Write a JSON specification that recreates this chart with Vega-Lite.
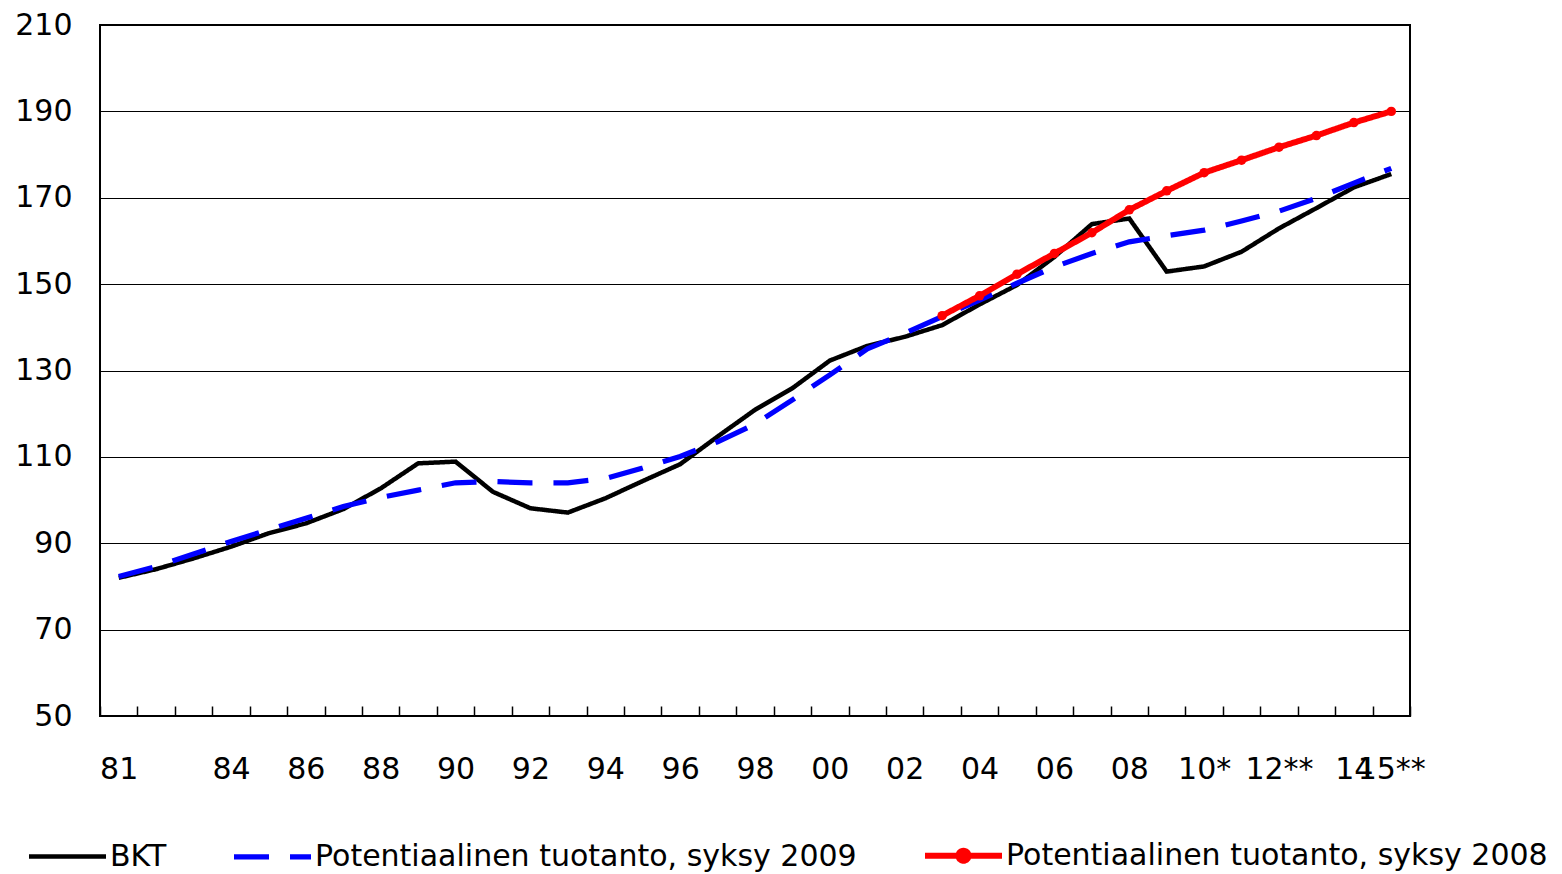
{
  "$schema": "https://vega.github.io/schema/vega-lite/v6.json",
  "width": 1310,
  "height": 691,
  "autosize": {"type": "none"},
  "padding": {"left": 100, "top": 25, "right": 152, "bottom": 158},
  "background": "white",
  "config": {"view": {"stroke": "black", "strokeWidth": 2}, "font": "DejaVu Sans"},
  "data": {"values": [
      {"year": "81", "series": "BKT", "value": 82.0},
      {"year": "82", "series": "BKT", "value": 84.0},
      {"year": "83", "series": "BKT", "value": 86.5},
      {"year": "84", "series": "BKT", "value": 89.2},
      {"year": "85", "series": "BKT", "value": 92.3},
      {"year": "86", "series": "BKT", "value": 94.6},
      {"year": "87", "series": "BKT", "value": 97.9},
      {"year": "88", "series": "BKT", "value": 102.7},
      {"year": "89", "series": "BKT", "value": 108.5},
      {"year": "90", "series": "BKT", "value": 108.9},
      {"year": "91", "series": "BKT", "value": 101.9},
      {"year": "92", "series": "BKT", "value": 98.1},
      {"year": "93", "series": "BKT", "value": 97.1},
      {"year": "94", "series": "BKT", "value": 100.4},
      {"year": "95", "series": "BKT", "value": 104.4},
      {"year": "96", "series": "BKT", "value": 108.3},
      {"year": "97", "series": "BKT", "value": 114.7},
      {"year": "98", "series": "BKT", "value": 120.9},
      {"year": "99", "series": "BKT", "value": 125.9},
      {"year": "00", "series": "BKT", "value": 132.3},
      {"year": "01", "series": "BKT", "value": 135.7},
      {"year": "02", "series": "BKT", "value": 137.8},
      {"year": "03", "series": "BKT", "value": 140.5},
      {"year": "04", "series": "BKT", "value": 145.3},
      {"year": "05", "series": "BKT", "value": 149.8},
      {"year": "06", "series": "BKT", "value": 156.3},
      {"year": "07", "series": "BKT", "value": 163.9},
      {"year": "08", "series": "BKT", "value": 165.2},
      {"year": "09", "series": "BKT", "value": 152.9},
      {"year": "10*", "series": "BKT", "value": 154.1},
      {"year": "11", "series": "BKT", "value": 157.5},
      {"year": "12**", "series": "BKT", "value": 162.9},
      {"year": "13", "series": "BKT", "value": 167.6},
      {"year": "14", "series": "BKT", "value": 172.4},
      {"year": "15**", "series": "BKT", "value": 175.5},
      {"year": "81", "series": "Potentiaalinen tuotanto, syksy 2009", "value": 82.3},
      {"year": "82", "series": "Potentiaalinen tuotanto, syksy 2009", "value": 84.6},
      {"year": "83", "series": "Potentiaalinen tuotanto, syksy 2009", "value": 87.5},
      {"year": "84", "series": "Potentiaalinen tuotanto, syksy 2009", "value": 90.4},
      {"year": "85", "series": "Potentiaalinen tuotanto, syksy 2009", "value": 93.1},
      {"year": "86", "series": "Potentiaalinen tuotanto, syksy 2009", "value": 95.8},
      {"year": "87", "series": "Potentiaalinen tuotanto, syksy 2009", "value": 98.5},
      {"year": "88", "series": "Potentiaalinen tuotanto, syksy 2009", "value": 100.6},
      {"year": "89", "series": "Potentiaalinen tuotanto, syksy 2009", "value": 102.3},
      {"year": "90", "series": "Potentiaalinen tuotanto, syksy 2009", "value": 104.0},
      {"year": "91", "series": "Potentiaalinen tuotanto, syksy 2009", "value": 104.3},
      {"year": "92", "series": "Potentiaalinen tuotanto, syksy 2009", "value": 104.0},
      {"year": "93", "series": "Potentiaalinen tuotanto, syksy 2009", "value": 104.0},
      {"year": "94", "series": "Potentiaalinen tuotanto, syksy 2009", "value": 105.0},
      {"year": "95", "series": "Potentiaalinen tuotanto, syksy 2009", "value": 107.4},
      {"year": "96", "series": "Potentiaalinen tuotanto, syksy 2009", "value": 110.1},
      {"year": "97", "series": "Potentiaalinen tuotanto, syksy 2009", "value": 113.5},
      {"year": "98", "series": "Potentiaalinen tuotanto, syksy 2009", "value": 117.6},
      {"year": "99", "series": "Potentiaalinen tuotanto, syksy 2009", "value": 123.2},
      {"year": "00", "series": "Potentiaalinen tuotanto, syksy 2009", "value": 129.0},
      {"year": "01", "series": "Potentiaalinen tuotanto, syksy 2009", "value": 135.0},
      {"year": "02", "series": "Potentiaalinen tuotanto, syksy 2009", "value": 138.6},
      {"year": "03", "series": "Potentiaalinen tuotanto, syksy 2009", "value": 142.5},
      {"year": "04", "series": "Potentiaalinen tuotanto, syksy 2009", "value": 146.3},
      {"year": "05", "series": "Potentiaalinen tuotanto, syksy 2009", "value": 150.2},
      {"year": "06", "series": "Potentiaalinen tuotanto, syksy 2009", "value": 154.0},
      {"year": "07", "series": "Potentiaalinen tuotanto, syksy 2009", "value": 157.1},
      {"year": "08", "series": "Potentiaalinen tuotanto, syksy 2009", "value": 159.8},
      {"year": "09", "series": "Potentiaalinen tuotanto, syksy 2009", "value": 161.2},
      {"year": "10*", "series": "Potentiaalinen tuotanto, syksy 2009", "value": 162.5},
      {"year": "11", "series": "Potentiaalinen tuotanto, syksy 2009", "value": 164.6},
      {"year": "12**", "series": "Potentiaalinen tuotanto, syksy 2009", "value": 166.9},
      {"year": "13", "series": "Potentiaalinen tuotanto, syksy 2009", "value": 169.9},
      {"year": "14", "series": "Potentiaalinen tuotanto, syksy 2009", "value": 173.4},
      {"year": "15**", "series": "Potentiaalinen tuotanto, syksy 2009", "value": 176.8},
      {"year": "03", "series": "Potentiaalinen tuotanto, syksy 2008", "value": 142.7},
      {"year": "04", "series": "Potentiaalinen tuotanto, syksy 2008", "value": 147.3},
      {"year": "05", "series": "Potentiaalinen tuotanto, syksy 2008", "value": 152.3},
      {"year": "06", "series": "Potentiaalinen tuotanto, syksy 2008", "value": 157.1},
      {"year": "07", "series": "Potentiaalinen tuotanto, syksy 2008", "value": 161.9},
      {"year": "08", "series": "Potentiaalinen tuotanto, syksy 2008", "value": 167.2},
      {"year": "09", "series": "Potentiaalinen tuotanto, syksy 2008", "value": 171.6},
      {"year": "10*", "series": "Potentiaalinen tuotanto, syksy 2008", "value": 175.8},
      {"year": "11", "series": "Potentiaalinen tuotanto, syksy 2008", "value": 178.7},
      {"year": "12**", "series": "Potentiaalinen tuotanto, syksy 2008", "value": 181.7},
      {"year": "13", "series": "Potentiaalinen tuotanto, syksy 2008", "value": 184.4},
      {"year": "14", "series": "Potentiaalinen tuotanto, syksy 2008", "value": 187.4},
      {"year": "15**", "series": "Potentiaalinen tuotanto, syksy 2008", "value": 190.0}
  ]},
  "encoding": {
    "x": {
      "field": "year", "type": "ordinal", "sort": null,
      "scale": {"type": "band", "paddingInner": 0, "paddingOuter": 0},
      "axis": {
        "title": null, "tickBand": "extent", "tickSize": -10, "tickColor": "black", "tickWidth": 1.5,
        "domain": false, "grid": false, "labelAngle": 0, "labelFontSize": 30, "labelColor": "black",
        "labelBaseline": "top", "labelPadding": 48, "labelOverlap": false, "labelBound": false,
        "labelExpr": "indexof(['82','83','85','87','89','91','93','95','97','99','01','03','05','07','09','11','13'], datum.value) >= 0 ? '' : datum.value"
      }
    },
    "y": {
      "field": "value", "type": "quantitative",
      "scale": {"domain": [50, 210], "nice": false, "zero": false},
      "axis": {
        "title": null, "values": [50, 70, 90, 110, 130, 150, 170, 190, 210],
        "grid": true, "gridColor": "black", "gridWidth": 1, "ticks": false, "tickSize": 0,
        "domain": false, "labelFontSize": 30, "labelColor": "black", "labelPadding": 28
      }
    }
  },
  "layer": [
    {
      "mark": {"type": "line", "strokeJoin": "miter"},
      "encoding": {
        "color": {
          "field": "series", "type": "nominal",
          "scale": {"domain": ["BKT", "Potentiaalinen tuotanto, syksy 2009", "Potentiaalinen tuotanto, syksy 2008"], "range": ["#000000", "#0000FF", "#FF0000"]},
          "legend": {
            "title": null, "orient": "none", "legendX": -74, "legendY": 789,
            "direction": "horizontal", "columns": 3, "columnPadding": 56,
            "symbolType": "stroke", "symbolSize": 5929, "labelFontSize": 30, "labelColor": "black",
            "labelOffset": 1, "padding": 0, "labelLimit": 1000,
            "encode": {
              "symbols": {
                "update": {
                  "shape": {"signal": "datum.value === 'Potentiaalinen tuotanto, syksy 2008' ? 'M-1,0H1M-0.13,0A0.13,0.13,0,1,0,0.13,0A0.13,0.13,0,1,0,-0.13,0' : 'stroke'"},
                  "fill": {"signal": "datum.value === 'Potentiaalinen tuotanto, syksy 2008' ? '#FF0000' : 'transparent'"}
                }
              }
            }
          }
        },
        "strokeDash": {
          "field": "series", "type": "nominal",
          "scale": {"domain": ["BKT", "Potentiaalinen tuotanto, syksy 2009", "Potentiaalinen tuotanto, syksy 2008"], "range": [[1, 0], [35, 21], [1, 0]]}
        },
        "strokeWidth": {
          "field": "series", "type": "ordinal",
          "scale": {"domain": ["BKT", "Potentiaalinen tuotanto, syksy 2009", "Potentiaalinen tuotanto, syksy 2008"], "range": [4.5, 6, 5]}
        }
      }
    },
    {
      "transform": [{"filter": "datum.series === 'Potentiaalinen tuotanto, syksy 2008'"}],
      "mark": {"type": "point", "filled": true, "color": "#FF0000", "size": 90, "opacity": 1}
    }
  ]
}
